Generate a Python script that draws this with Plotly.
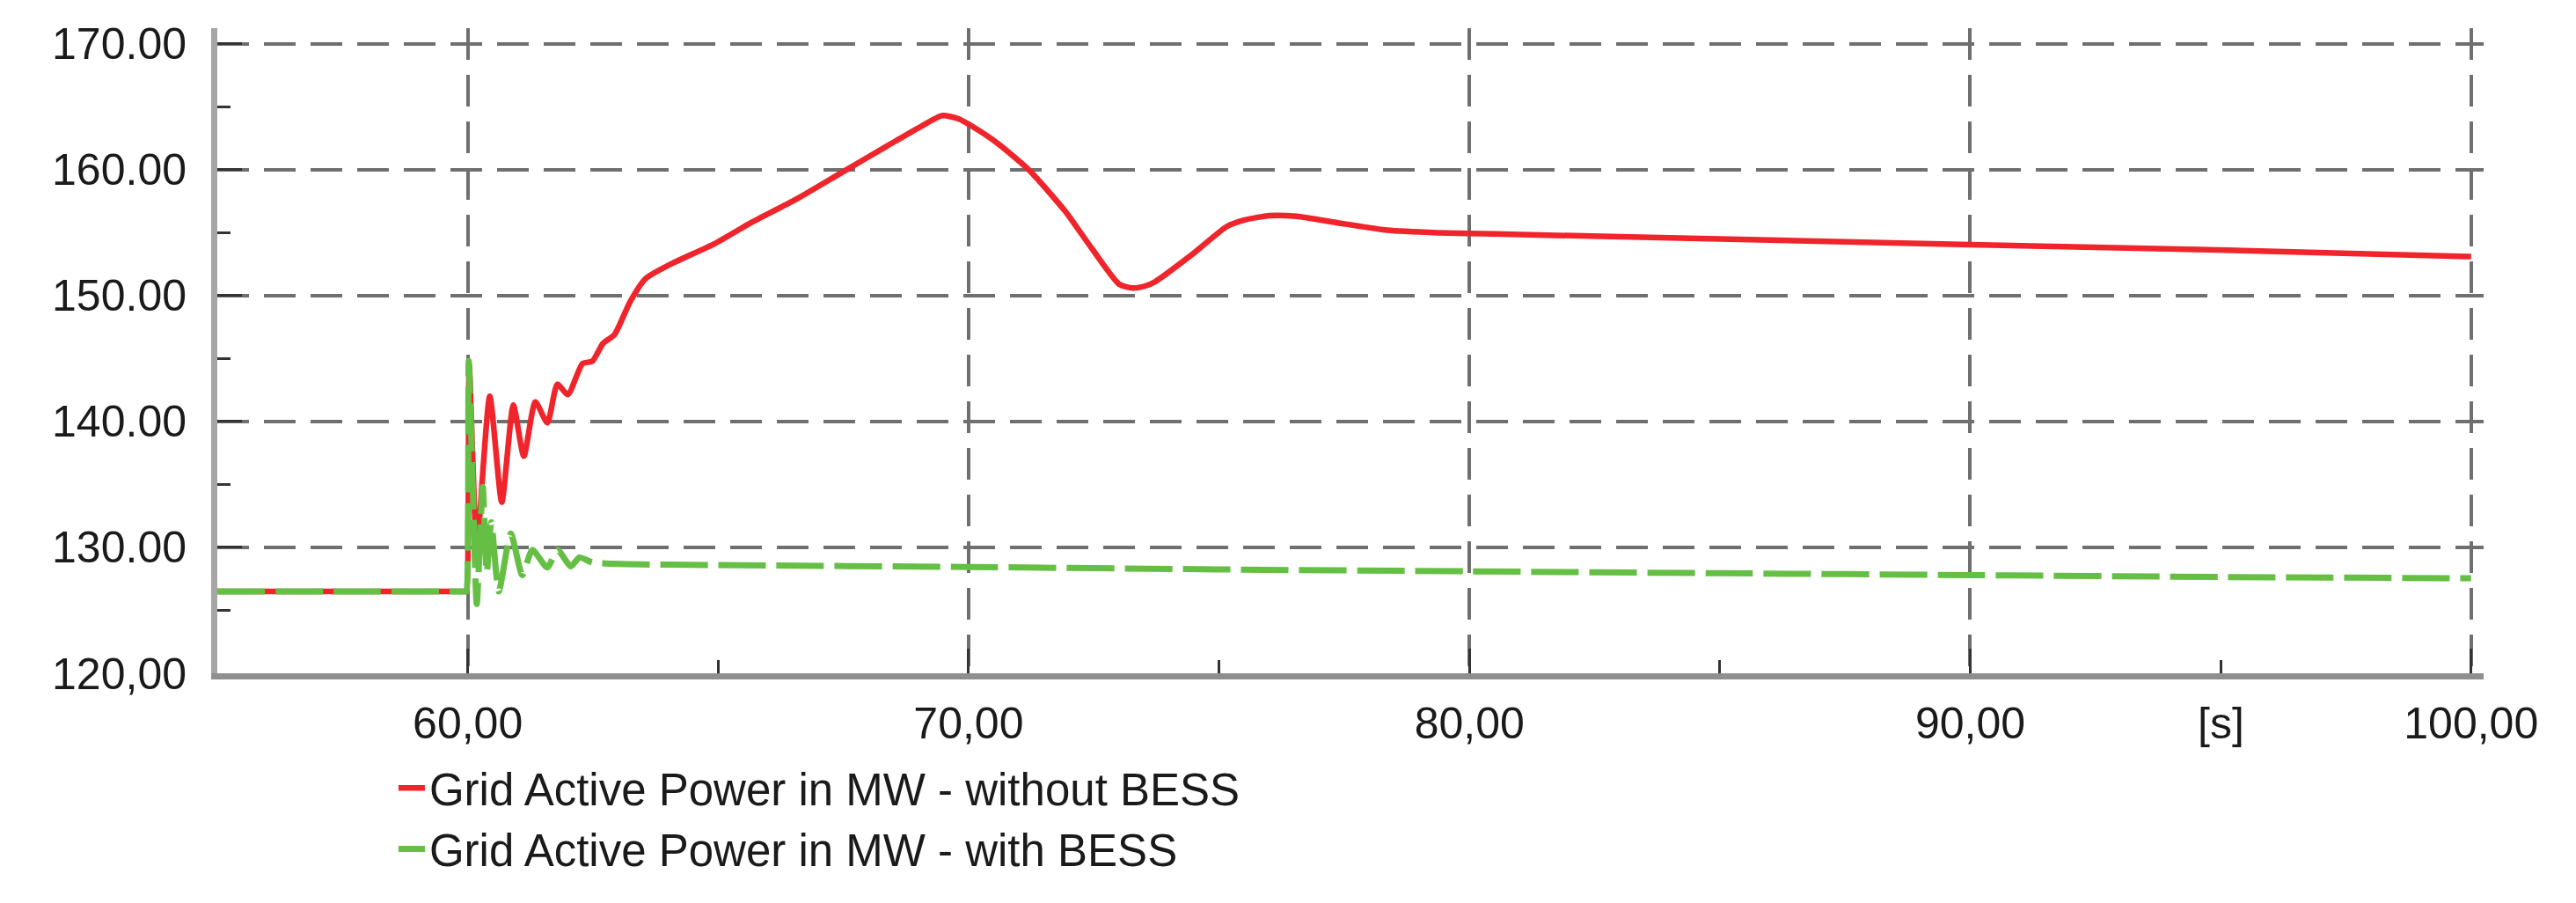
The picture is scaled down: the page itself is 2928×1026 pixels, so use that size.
import plotly.graph_objects as go

# ---- data ----
t_without = [55.0, 57.5, 59.97, 59.98, 60.03, 60.10, 60.18, 60.44, 60.68, 60.91, 61.12, 61.35, 61.59, 61.79,
             62.00, 62.29, 62.49, 62.70, 62.93, 63.24, 63.55, 64.05, 64.94, 65.66, 66.55, 67.45,
             68.35, 69.06, 69.47, 69.80, 70.05, 70.59, 71.21, 71.93, 72.47, 73.01, 73.28, 73.55, 73.72, 74.44,
             75.16, 75.50, 76.01, 76.55, 77.35, 78.36, 79.37, 80.50, 85.0, 90.0, 94.55, 100.0]
p_without = [126.5, 126.5, 126.5, 126.5, 144.5, 137.0, 130.0, 142.0, 133.6, 141.3, 137.25, 141.56, 139.9, 142.96,
             142.15, 144.6, 144.8, 146.2, 146.9, 149.5, 151.35, 152.5, 154.15, 155.8, 157.64, 159.74,
             161.84, 163.47, 164.3, 164.05, 163.5, 162.07, 159.97, 156.7, 153.7, 150.9, 150.6, 150.8, 151.1, 153.2,
             155.5, 156.0, 156.36, 156.3, 155.8, 155.2, 155.0, 154.9, 154.5, 154.05, 153.67, 153.1]

t_with = [55.0, 57.5, 59.97, 59.98, 60.02, 60.10, 60.18, 60.30, 60.38, 60.47, 60.62, 60.86, 61.09, 61.29,
          61.59, 61.79, 62.06, 62.23, 62.50, 65.0, 70.0, 75.0, 80.0, 85.0, 90.0, 95.0, 100.0]
p_with = [126.5, 126.5, 126.5, 126.5, 144.8, 135.0, 125.5, 134.8, 128.0, 132.0, 126.5, 131.1, 127.8, 129.8,
          128.4, 129.8, 128.5, 129.2, 128.8, 128.6, 128.45, 128.25, 128.1, 127.95, 127.8, 127.65, 127.55]

series_names = ["Grid Active Power in MW - without BESS", "Grid Active Power in MW - with BESS"]

x_ticks = [60, 70, 80, 90, 100]
x_ticktext = ["60,00", "70,00", "80,00", "90,00", "100,00"]
x_minor = [65, 75, 85, 95]
y_ticks = [120, 130, 140, 150, 160, 170]
y_ticktext = ["120,00", "130.00", "140.00", "150.00", "160.00", "170.00"]
y_minor = [125, 135, 145, 155, 165]
x_unit_label = "[s]"
x_unit_pos = 95

FONT = "Arial, 'Liberation Sans', sans-serif"
GRID = "#6f6f6f"
TICKFONT = dict(family=FONT, size=50, color="#1a1a1a")

fig = go.Figure()
fig.add_trace(go.Scatter(x=t_without, y=p_without, mode="lines", name=series_names[0],
                         line=dict(color="#f0242b", width=6.5, shape="spline", smoothing=0.6)))
fig.add_trace(go.Scatter(x=t_with, y=p_with, mode="lines", name=series_names[1],
                         line=dict(color="#66bf45", width=7, dash="54px,12px",
                                   shape="spline", smoothing=0.6)))

fig.update_layout(
    width=2928, height=1026,
    margin=dict(l=247, r=105, t=32, b=261),
    paper_bgcolor="white", plot_bgcolor="white",
    font=dict(family=FONT, size=50, color="#1a1a1a"),
    showlegend=True,
    legend=dict(x=0.078, y=-0.1235, xanchor="left", yanchor="top",
                font=dict(family=FONT, size=51, color="#1a1a1a"),
                bgcolor="rgba(0,0,0,0)", tracegroupgap=0),
    annotations=[dict(x=x_unit_pos, xref="x", y=0, yref="paper", yanchor="top",
                      yshift=-27, text=x_unit_label, showarrow=False,
                      font=TICKFONT)],
)

fig.update_xaxes(
    range=[55, 100.25], tickmode="array", tickvals=x_ticks, ticktext=x_ticktext,
    tickfont=TICKFONT,
    showgrid=True, gridcolor=GRID, gridwidth=3.5, griddash="36px,17px",
    showline=True, linecolor="#8f8f8f", linewidth=7,
    ticks="inside", ticklen=28, tickwidth=3, tickcolor="#333333",
    ticklabelstandoff=7, zeroline=False,
    minor=dict(tickvals=x_minor, ticks="inside", ticklen=15, tickwidth=3,
               tickcolor="#333333", showgrid=False),
)
fig.update_yaxes(
    range=[120, 171.25], tickmode="array", tickvals=y_ticks, ticktext=y_ticktext,
    tickfont=TICKFONT,
    showgrid=True, gridcolor=GRID, gridwidth=3.5, griddash="36px,17px",
    showline=True, linecolor="#a6a6a6", linewidth=7,
    ticks="inside", ticklen=28, tickwidth=3, tickcolor="#333333",
    ticklabelstandoff=18, zeroline=False,
    minor=dict(tickvals=y_minor, ticks="inside", ticklen=15, tickwidth=3,
               tickcolor="#333333", showgrid=False),
)

fig.write_html("out.html", config={"displayModeBar": False},
               post_script="document.body.style.margin='0';document.body.style.overflow='hidden';")
